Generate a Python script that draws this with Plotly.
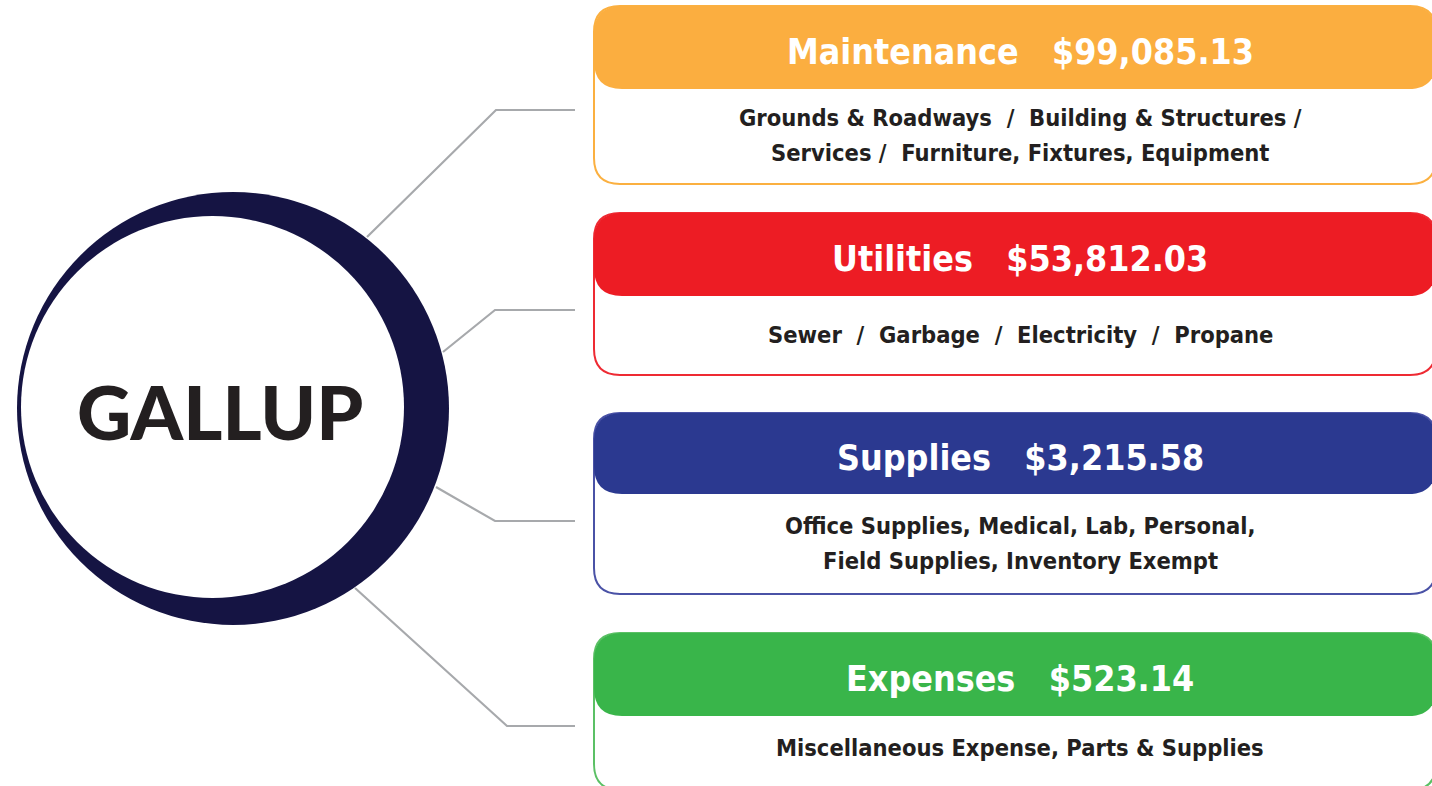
import plotly.graph_objects as go

# ---------------- data ----------------
center_label = "GALLUP"
categories = ["Maintenance", "Utilities", "Supplies", "Expenses"]
amounts = [99085.13, 53812.03, 3215.58, 523.14]
details = [
    ["Grounds & Roadways  /  Building & Structures /", "Services /  Furniture, Fixtures, Equipment"],
    ["Sewer  /  Garbage  /  Electricity  /  Propane"],
    ["Office Supplies, Medical, Lab, Personal,", "Field Supplies, Inventory Exempt"],
    ["Miscellaneous Expense, Parts & Supplies"],
]

# ---------------- style / layout ----------------
W, H = 1432, 786
head_colors = ["#FBAE40", "#ED1C24", "#2B3990", "#39B54A"]
line_colors = ["#FBB040", "#EE2A33", "#4A52A6", "#5BC065"]
navy = "#151443"
grey = "#A7A9AC"
text_dark = "#231F20"
box_x0, box_x1 = 594, 1436
text_cx = 1020
# (top, header bottom, box bottom)
box_rows = [(6, 89, 184), (213, 296, 375), (413, 494, 594), (633, 716, 790)]
connectors = [
    [(367, 237), (496, 110), (575, 110)],
    [(443, 352), (495, 310), (575, 310)],
    [(436, 487), (495, 521), (575, 521)],
    [(355, 588), (507, 726), (575, 726)],
]

HEAD_FONT = "DejaVu Sans Condensed"
BODY_FONT = "DejaVu Sans Condensed"


def rrect(x0, y0, x1, y1, r):
    return (f"M {x0+r},{y0} L {x1-r},{y0} Q {x1},{y0} {x1},{y0+r} "
            f"L {x1},{y1-r} Q {x1},{y1} {x1-r},{y1} L {x0+r},{y1} "
            f"Q {x0},{y1} {x0},{y1-r} L {x0},{y0+r} Q {x0},{y0} {x0+r},{y0} Z")


fig = go.Figure()
shapes = []
annotations = []

# connectors
for pts in connectors:
    p = "M " + " L ".join(f"{x},{y}" for x, y in pts)
    shapes.append(dict(type="path", path=p, xref="x", yref="y",
                       line=dict(color=grey, width=2.2), layer="below"))

# crescent circle
shapes.append(dict(type="circle", xref="x", yref="y", x0=17, x1=449, y0=192, y1=625,
                   fillcolor=navy, line=dict(width=0)))
shapes.append(dict(type="circle", xref="x", yref="y", x0=21, x1=404, y0=216, y1=598,
                   fillcolor="white", line=dict(width=0)))
annotations.append(dict(x=220, y=411, xref="x", yref="y", text=center_label,
                        showarrow=False, xanchor="center", yanchor="middle",
                        font=dict(family="Lato", size=75, color=text_dark, weight=900)))

for i, (cat, amt, det) in enumerate(zip(categories, amounts, details)):
    top, hb, bot = box_rows[i]
    shapes.append(dict(type="path", path=rrect(box_x0, top, box_x1, bot, 26),
                       xref="x", yref="y", fillcolor="white",
                       line=dict(color=line_colors[i], width=2)))
    shapes.append(dict(type="path", path=rrect(box_x0, top, box_x1, hb, 28),
                       xref="x", yref="y", fillcolor=head_colors[i],
                       line=dict(width=0)))
    label = f"<b>{cat}\u00a0\u00a0\u00a0${amt:,.2f}</b>"
    annotations.append(dict(x=text_cx, y=(top + hb) / 2 + 4, xref="x", yref="y",
                            text=label, showarrow=False, xanchor="center", yanchor="middle",
                            font=dict(family=HEAD_FONT, size=35.5, color="white")))
    body_mid = (hb + min(bot, 786)) / 2 - 1 if i < 3 else 748
    n = len(det)
    for j, line in enumerate(det):
        y = body_mid + (j - (n - 1) / 2) * 35
        annotations.append(dict(x=text_cx, y=y, xref="x", yref="y",
                                text=f"<b>{line}</b>", showarrow=False,
                                xanchor="center", yanchor="middle",
                                font=dict(family=BODY_FONT, size=23.5, color=text_dark)))

fig.update_layout(
    width=W, height=H, margin=dict(l=0, r=0, t=0, b=0),
    paper_bgcolor="white", plot_bgcolor="white",
    xaxis=dict(range=[0, W], visible=False, fixedrange=True),
    yaxis=dict(range=[H, 0], visible=False, fixedrange=True),
    shapes=shapes, annotations=annotations, showlegend=False,
)

fig.write_html("out.html", config={"displayModeBar": False},
               post_script="document.body.style.margin='0';document.body.style.overflow='hidden';")
